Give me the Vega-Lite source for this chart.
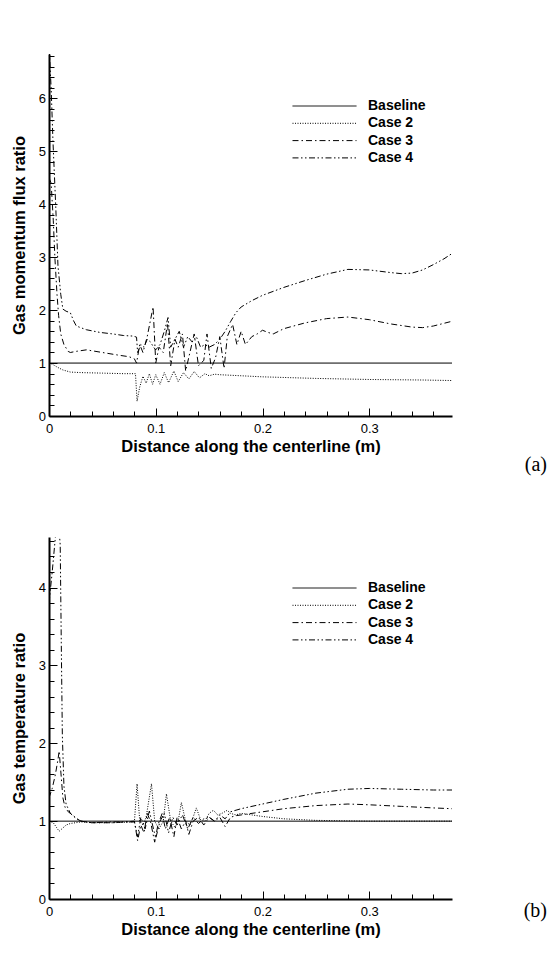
{
  "$schema": "https://vega.github.io/schema/vega-lite/v6.json",
  "background": "white",
  "padding": {"left": 11, "top": 50, "right": 0, "bottom": 0},
  "bounds": "flush",
  "spacing": 121,
  "config": {
    "font": "Liberation Sans",
    "view": {"stroke": null},
    "axis": {
      "domainColor": "black", "domainWidth": 2, "tickColor": "black", "tickWidth": 1,
      "labelColor": "black", "labelFontSize": 13, "labelFont": "Liberation Sans",
      "titleColor": "black", "titleFontSize": 16.5, "titleFontWeight": "bold", "titleFont": "Liberation Sans",
      "grid": false, "labelFlush": false, "labelOverlap": false
    },
    "legend": {
      "title": null, "orient": "none", "symbolType": "stroke", "symbolSize": 4096,
      "symbolStrokeWidth": 1, "symbolStrokeColor": "black", "labelFont": "Liberation Sans",
      "labelFontWeight": "bold", "labelFontSize": 14, "labelColor": "black", "labelOffset": 11,
      "clipHeight": 14, "rowPadding": 3.3, "padding": 0
    }
  },
  "resolve": {"scale": {"strokeDash": "independent"}, "legend": {"strokeDash": "independent"}},
  "datasets": {
    "momentum": [
      {"case": "Baseline", "x": 0, "y": 1}, {"case": "Baseline", "x": 0.3775, "y": 1},
      {"case": "Case 2", "x": 0, "y": 1.0}, {"case": "Case 2", "x": 0.003, "y": 0.98}, {"case": "Case 2", "x": 0.008, "y": 0.92}, {"case": "Case 2", "x": 0.013, "y": 0.87}, {"case": "Case 2", "x": 0.02, "y": 0.83}, {"case": "Case 2", "x": 0.03, "y": 0.82}, {"case": "Case 2", "x": 0.05, "y": 0.81}, {"case": "Case 2", "x": 0.07, "y": 0.8}, {"case": "Case 2", "x": 0.081, "y": 0.8}, {"case": "Case 2", "x": 0.0825, "y": 0.28}, {"case": "Case 2", "x": 0.085, "y": 0.55}, {"case": "Case 2", "x": 0.088, "y": 0.75}, {"case": "Case 2", "x": 0.091, "y": 0.62}, {"case": "Case 2", "x": 0.094, "y": 0.8}, {"case": "Case 2", "x": 0.097, "y": 0.6}, {"case": "Case 2", "x": 0.1, "y": 0.78}, {"case": "Case 2", "x": 0.104, "y": 0.6}, {"case": "Case 2", "x": 0.108, "y": 0.82}, {"case": "Case 2", "x": 0.112, "y": 0.63}, {"case": "Case 2", "x": 0.117, "y": 0.85}, {"case": "Case 2", "x": 0.121, "y": 0.65}, {"case": "Case 2", "x": 0.126, "y": 0.82}, {"case": "Case 2", "x": 0.131, "y": 0.7}, {"case": "Case 2", "x": 0.136, "y": 0.84}, {"case": "Case 2", "x": 0.141, "y": 0.72}, {"case": "Case 2", "x": 0.146, "y": 0.8}, {"case": "Case 2", "x": 0.15, "y": 0.76}, {"case": "Case 2", "x": 0.155, "y": 0.79}, {"case": "Case 2", "x": 0.16, "y": 0.78}, {"case": "Case 2", "x": 0.18, "y": 0.76}, {"case": "Case 2", "x": 0.2, "y": 0.74}, {"case": "Case 2", "x": 0.25, "y": 0.71}, {"case": "Case 2", "x": 0.3, "y": 0.69}, {"case": "Case 2", "x": 0.35, "y": 0.68}, {"case": "Case 2", "x": 0.3775, "y": 0.67},
      {"case": "Case 3", "x": 0, "y": 4.5}, {"case": "Case 3", "x": 0.002, "y": 4.4}, {"case": "Case 3", "x": 0.004, "y": 3.7}, {"case": "Case 3", "x": 0.0055, "y": 3.0}, {"case": "Case 3", "x": 0.0075, "y": 2.3}, {"case": "Case 3", "x": 0.009, "y": 1.9}, {"case": "Case 3", "x": 0.011, "y": 1.55}, {"case": "Case 3", "x": 0.014, "y": 1.35}, {"case": "Case 3", "x": 0.018, "y": 1.22}, {"case": "Case 3", "x": 0.02, "y": 1.2}, {"case": "Case 3", "x": 0.025, "y": 1.22}, {"case": "Case 3", "x": 0.035, "y": 1.25}, {"case": "Case 3", "x": 0.05, "y": 1.2}, {"case": "Case 3", "x": 0.065, "y": 1.15}, {"case": "Case 3", "x": 0.075, "y": 1.12}, {"case": "Case 3", "x": 0.08, "y": 1.08}, {"case": "Case 3", "x": 0.082, "y": 1.0}, {"case": "Case 3", "x": 0.085, "y": 1.35}, {"case": "Case 3", "x": 0.088, "y": 1.2}, {"case": "Case 3", "x": 0.092, "y": 1.5}, {"case": "Case 3", "x": 0.0975, "y": 2.06}, {"case": "Case 3", "x": 0.1, "y": 1.0}, {"case": "Case 3", "x": 0.103, "y": 1.3}, {"case": "Case 3", "x": 0.107, "y": 1.2}, {"case": "Case 3", "x": 0.111, "y": 1.75}, {"case": "Case 3", "x": 0.114, "y": 0.95}, {"case": "Case 3", "x": 0.118, "y": 1.45}, {"case": "Case 3", "x": 0.121, "y": 1.3}, {"case": "Case 3", "x": 0.125, "y": 1.55}, {"case": "Case 3", "x": 0.128, "y": 0.85}, {"case": "Case 3", "x": 0.132, "y": 1.2}, {"case": "Case 3", "x": 0.136, "y": 1.55}, {"case": "Case 3", "x": 0.14, "y": 0.95}, {"case": "Case 3", "x": 0.145, "y": 1.05}, {"case": "Case 3", "x": 0.148, "y": 1.55}, {"case": "Case 3", "x": 0.152, "y": 0.9}, {"case": "Case 3", "x": 0.156, "y": 1.1}, {"case": "Case 3", "x": 0.16, "y": 1.5}, {"case": "Case 3", "x": 0.164, "y": 0.9}, {"case": "Case 3", "x": 0.167, "y": 1.5}, {"case": "Case 3", "x": 0.172, "y": 1.73}, {"case": "Case 3", "x": 0.176, "y": 1.35}, {"case": "Case 3", "x": 0.18, "y": 1.6}, {"case": "Case 3", "x": 0.184, "y": 1.35}, {"case": "Case 3", "x": 0.19, "y": 1.5}, {"case": "Case 3", "x": 0.195, "y": 1.55}, {"case": "Case 3", "x": 0.2, "y": 1.62}, {"case": "Case 3", "x": 0.205, "y": 1.58}, {"case": "Case 3", "x": 0.21, "y": 1.55}, {"case": "Case 3", "x": 0.215, "y": 1.6}, {"case": "Case 3", "x": 0.22, "y": 1.65}, {"case": "Case 3", "x": 0.24, "y": 1.76}, {"case": "Case 3", "x": 0.26, "y": 1.84}, {"case": "Case 3", "x": 0.28, "y": 1.87}, {"case": "Case 3", "x": 0.3, "y": 1.82}, {"case": "Case 3", "x": 0.32, "y": 1.74}, {"case": "Case 3", "x": 0.34, "y": 1.68}, {"case": "Case 3", "x": 0.35, "y": 1.67}, {"case": "Case 3", "x": 0.36, "y": 1.7}, {"case": "Case 3", "x": 0.3775, "y": 1.79},
      {"case": "Case 4", "x": 0, "y": 7.0}, {"case": "Case 4", "x": 0.002, "y": 6.2}, {"case": "Case 4", "x": 0.0037, "y": 5.2}, {"case": "Case 4", "x": 0.0063, "y": 3.97}, {"case": "Case 4", "x": 0.0084, "y": 2.84}, {"case": "Case 4", "x": 0.011, "y": 2.3}, {"case": "Case 4", "x": 0.013, "y": 2.02}, {"case": "Case 4", "x": 0.016, "y": 1.98}, {"case": "Case 4", "x": 0.02, "y": 1.95}, {"case": "Case 4", "x": 0.023, "y": 1.8}, {"case": "Case 4", "x": 0.0256, "y": 1.7}, {"case": "Case 4", "x": 0.035, "y": 1.63}, {"case": "Case 4", "x": 0.0475, "y": 1.58}, {"case": "Case 4", "x": 0.06, "y": 1.55}, {"case": "Case 4", "x": 0.07, "y": 1.52}, {"case": "Case 4", "x": 0.079, "y": 1.51}, {"case": "Case 4", "x": 0.082, "y": 1.49}, {"case": "Case 4", "x": 0.083, "y": 1.2}, {"case": "Case 4", "x": 0.086, "y": 1.35}, {"case": "Case 4", "x": 0.089, "y": 1.3}, {"case": "Case 4", "x": 0.092, "y": 1.45}, {"case": "Case 4", "x": 0.095, "y": 1.4}, {"case": "Case 4", "x": 0.098, "y": 1.3}, {"case": "Case 4", "x": 0.1, "y": 1.25}, {"case": "Case 4", "x": 0.104, "y": 1.35}, {"case": "Case 4", "x": 0.108, "y": 1.6}, {"case": "Case 4", "x": 0.1115, "y": 1.86}, {"case": "Case 4", "x": 0.114, "y": 1.3}, {"case": "Case 4", "x": 0.118, "y": 1.45}, {"case": "Case 4", "x": 0.122, "y": 1.6}, {"case": "Case 4", "x": 0.126, "y": 1.3}, {"case": "Case 4", "x": 0.13, "y": 1.5}, {"case": "Case 4", "x": 0.134, "y": 1.4}, {"case": "Case 4", "x": 0.138, "y": 1.5}, {"case": "Case 4", "x": 0.142, "y": 1.3}, {"case": "Case 4", "x": 0.146, "y": 1.35}, {"case": "Case 4", "x": 0.15, "y": 1.3}, {"case": "Case 4", "x": 0.155, "y": 1.35}, {"case": "Case 4", "x": 0.16, "y": 1.45}, {"case": "Case 4", "x": 0.165, "y": 1.6}, {"case": "Case 4", "x": 0.17, "y": 1.78}, {"case": "Case 4", "x": 0.175, "y": 1.95}, {"case": "Case 4", "x": 0.18, "y": 2.06}, {"case": "Case 4", "x": 0.19, "y": 2.18}, {"case": "Case 4", "x": 0.2, "y": 2.28}, {"case": "Case 4", "x": 0.22, "y": 2.43}, {"case": "Case 4", "x": 0.24, "y": 2.56}, {"case": "Case 4", "x": 0.26, "y": 2.68}, {"case": "Case 4", "x": 0.28, "y": 2.77}, {"case": "Case 4", "x": 0.3, "y": 2.76}, {"case": "Case 4", "x": 0.32, "y": 2.71}, {"case": "Case 4", "x": 0.33, "y": 2.69}, {"case": "Case 4", "x": 0.34, "y": 2.7}, {"case": "Case 4", "x": 0.35, "y": 2.76}, {"case": "Case 4", "x": 0.36, "y": 2.86}, {"case": "Case 4", "x": 0.37, "y": 2.97}, {"case": "Case 4", "x": 0.3775, "y": 3.07}
    ],
    "temperature": [
      {"case": "Baseline", "x": 0, "y": 1}, {"case": "Baseline", "x": 0.3775, "y": 1},
      {"case": "Case 2", "x": 0, "y": 1.0}, {"case": "Case 2", "x": 0.004, "y": 0.98}, {"case": "Case 2", "x": 0.007, "y": 0.92}, {"case": "Case 2", "x": 0.0095, "y": 0.87}, {"case": "Case 2", "x": 0.012, "y": 0.9}, {"case": "Case 2", "x": 0.016, "y": 0.95}, {"case": "Case 2", "x": 0.02, "y": 0.97}, {"case": "Case 2", "x": 0.03, "y": 0.99}, {"case": "Case 2", "x": 0.04, "y": 0.98}, {"case": "Case 2", "x": 0.06, "y": 0.98}, {"case": "Case 2", "x": 0.08, "y": 0.99}, {"case": "Case 2", "x": 0.0825, "y": 1.48}, {"case": "Case 2", "x": 0.085, "y": 1.0}, {"case": "Case 2", "x": 0.088, "y": 0.95}, {"case": "Case 2", "x": 0.091, "y": 1.05}, {"case": "Case 2", "x": 0.096, "y": 1.48}, {"case": "Case 2", "x": 0.099, "y": 1.0}, {"case": "Case 2", "x": 0.103, "y": 0.9}, {"case": "Case 2", "x": 0.107, "y": 1.0}, {"case": "Case 2", "x": 0.11, "y": 1.35}, {"case": "Case 2", "x": 0.114, "y": 1.0}, {"case": "Case 2", "x": 0.118, "y": 0.92}, {"case": "Case 2", "x": 0.121, "y": 1.0}, {"case": "Case 2", "x": 0.124, "y": 1.24}, {"case": "Case 2", "x": 0.128, "y": 1.0}, {"case": "Case 2", "x": 0.132, "y": 0.95}, {"case": "Case 2", "x": 0.135, "y": 1.05}, {"case": "Case 2", "x": 0.138, "y": 1.17}, {"case": "Case 2", "x": 0.142, "y": 1.02}, {"case": "Case 2", "x": 0.146, "y": 1.0}, {"case": "Case 2", "x": 0.15, "y": 1.1}, {"case": "Case 2", "x": 0.154, "y": 1.14}, {"case": "Case 2", "x": 0.158, "y": 1.08}, {"case": "Case 2", "x": 0.162, "y": 1.1}, {"case": "Case 2", "x": 0.167, "y": 1.14}, {"case": "Case 2", "x": 0.17, "y": 1.1}, {"case": "Case 2", "x": 0.175, "y": 1.08}, {"case": "Case 2", "x": 0.18, "y": 1.1}, {"case": "Case 2", "x": 0.19, "y": 1.08}, {"case": "Case 2", "x": 0.2, "y": 1.06}, {"case": "Case 2", "x": 0.22, "y": 1.03}, {"case": "Case 2", "x": 0.25, "y": 1.01}, {"case": "Case 2", "x": 0.3, "y": 1.0}, {"case": "Case 2", "x": 0.3775, "y": 1.0},
      {"case": "Case 3", "x": 0, "y": 1.3}, {"case": "Case 3", "x": 0.003, "y": 1.42}, {"case": "Case 3", "x": 0.006, "y": 1.6}, {"case": "Case 3", "x": 0.0085, "y": 1.8}, {"case": "Case 3", "x": 0.0095, "y": 1.9}, {"case": "Case 3", "x": 0.011, "y": 1.65}, {"case": "Case 3", "x": 0.013, "y": 1.3}, {"case": "Case 3", "x": 0.015, "y": 1.18}, {"case": "Case 3", "x": 0.018, "y": 1.12}, {"case": "Case 3", "x": 0.022, "y": 1.08}, {"case": "Case 3", "x": 0.026, "y": 1.03}, {"case": "Case 3", "x": 0.03, "y": 1.0}, {"case": "Case 3", "x": 0.04, "y": 0.98}, {"case": "Case 3", "x": 0.06, "y": 0.98}, {"case": "Case 3", "x": 0.08, "y": 1.0}, {"case": "Case 3", "x": 0.083, "y": 0.75}, {"case": "Case 3", "x": 0.086, "y": 0.95}, {"case": "Case 3", "x": 0.089, "y": 0.85}, {"case": "Case 3", "x": 0.092, "y": 1.1}, {"case": "Case 3", "x": 0.095, "y": 1.0}, {"case": "Case 3", "x": 0.099, "y": 0.73}, {"case": "Case 3", "x": 0.102, "y": 0.95}, {"case": "Case 3", "x": 0.106, "y": 1.1}, {"case": "Case 3", "x": 0.109, "y": 0.9}, {"case": "Case 3", "x": 0.113, "y": 1.05}, {"case": "Case 3", "x": 0.117, "y": 0.8}, {"case": "Case 3", "x": 0.12, "y": 1.05}, {"case": "Case 3", "x": 0.124, "y": 0.9}, {"case": "Case 3", "x": 0.128, "y": 1.0}, {"case": "Case 3", "x": 0.131, "y": 0.83}, {"case": "Case 3", "x": 0.135, "y": 1.0}, {"case": "Case 3", "x": 0.14, "y": 1.05}, {"case": "Case 3", "x": 0.145, "y": 0.95}, {"case": "Case 3", "x": 0.15, "y": 1.05}, {"case": "Case 3", "x": 0.155, "y": 1.0}, {"case": "Case 3", "x": 0.16, "y": 1.05}, {"case": "Case 3", "x": 0.165, "y": 0.93}, {"case": "Case 3", "x": 0.17, "y": 1.05}, {"case": "Case 3", "x": 0.175, "y": 1.07}, {"case": "Case 3", "x": 0.18, "y": 1.08}, {"case": "Case 3", "x": 0.2, "y": 1.12}, {"case": "Case 3", "x": 0.22, "y": 1.16}, {"case": "Case 3", "x": 0.25, "y": 1.2}, {"case": "Case 3", "x": 0.28, "y": 1.22}, {"case": "Case 3", "x": 0.3, "y": 1.21}, {"case": "Case 3", "x": 0.33, "y": 1.19}, {"case": "Case 3", "x": 0.36, "y": 1.17}, {"case": "Case 3", "x": 0.3775, "y": 1.16},
      {"case": "Case 4", "x": 0, "y": 3.8}, {"case": "Case 4", "x": 0.003, "y": 4.2}, {"case": "Case 4", "x": 0.006, "y": 4.65}, {"case": "Case 4", "x": 0.0085, "y": 4.9}, {"case": "Case 4", "x": 0.0105, "y": 4.55}, {"case": "Case 4", "x": 0.0115, "y": 3.3}, {"case": "Case 4", "x": 0.0125, "y": 2.1}, {"case": "Case 4", "x": 0.014, "y": 1.45}, {"case": "Case 4", "x": 0.016, "y": 1.22}, {"case": "Case 4", "x": 0.02, "y": 1.1}, {"case": "Case 4", "x": 0.025, "y": 1.04}, {"case": "Case 4", "x": 0.03, "y": 1.0}, {"case": "Case 4", "x": 0.04, "y": 0.98}, {"case": "Case 4", "x": 0.06, "y": 0.99}, {"case": "Case 4", "x": 0.08, "y": 0.99}, {"case": "Case 4", "x": 0.083, "y": 0.8}, {"case": "Case 4", "x": 0.086, "y": 1.05}, {"case": "Case 4", "x": 0.09, "y": 0.9}, {"case": "Case 4", "x": 0.094, "y": 1.13}, {"case": "Case 4", "x": 0.097, "y": 0.95}, {"case": "Case 4", "x": 0.1, "y": 0.78}, {"case": "Case 4", "x": 0.104, "y": 1.0}, {"case": "Case 4", "x": 0.108, "y": 1.1}, {"case": "Case 4", "x": 0.112, "y": 0.85}, {"case": "Case 4", "x": 0.116, "y": 1.05}, {"case": "Case 4", "x": 0.12, "y": 0.95}, {"case": "Case 4", "x": 0.125, "y": 1.08}, {"case": "Case 4", "x": 0.13, "y": 0.9}, {"case": "Case 4", "x": 0.135, "y": 1.05}, {"case": "Case 4", "x": 0.14, "y": 0.97}, {"case": "Case 4", "x": 0.145, "y": 1.03}, {"case": "Case 4", "x": 0.15, "y": 1.05}, {"case": "Case 4", "x": 0.155, "y": 1.0}, {"case": "Case 4", "x": 0.16, "y": 1.08}, {"case": "Case 4", "x": 0.165, "y": 1.03}, {"case": "Case 4", "x": 0.17, "y": 1.12}, {"case": "Case 4", "x": 0.18, "y": 1.16}, {"case": "Case 4", "x": 0.2, "y": 1.22}, {"case": "Case 4", "x": 0.22, "y": 1.28}, {"case": "Case 4", "x": 0.25, "y": 1.36}, {"case": "Case 4", "x": 0.28, "y": 1.41}, {"case": "Case 4", "x": 0.3, "y": 1.42}, {"case": "Case 4", "x": 0.33, "y": 1.41}, {"case": "Case 4", "x": 0.36, "y": 1.4}, {"case": "Case 4", "x": 0.3775, "y": 1.4}
    ]
  },
  "vconcat": [
    {
      "width": 403, "height": 362,
      "title": {"text": "(a)", "orient": "bottom", "anchor": "end", "dx": 95, "offset": 0, "font": "Liberation Serif", "fontSize": 20, "fontWeight": "normal", "color": "black"},
      "data": {"name": "momentum"},
      "mark": {"type": "line", "clip": true, "color": "black", "strokeWidth": 1},
      "encoding": {
        "x": {"field": "x", "type": "quantitative", "scale": {"domain": [0, 0.3775], "nice": false},
          "axis": {"title": "Distance along the centerline (m)", "values": [0,0.02,0.04,0.06,0.08,0.1,0.12,0.14,0.16,0.18,0.2,0.22,0.24,0.26,0.28,0.3,0.32,0.34,0.36],
            "labelExpr": "abs(datum.value*10 - round(datum.value*10)) < 0.001 ? format(datum.value, '~g') : ''",
            "tickSize": {"condition": {"test": "abs(datum.value*10 - round(datum.value*10)) < 0.001", "value": -8}, "value": -5},
            "labelPadding": 14, "titlePadding": 0}},
        "y": {"field": "y", "type": "quantitative", "scale": {"domain": [0, 6.84], "nice": false},
          "axis": {"title": "Gas momentum flux ratio", "values": [0,0.2,0.4,0.6,0.8,1,1.2,1.4,1.6,1.8,2,2.2,2.4,2.6,2.8,3,3.2,3.4,3.6,3.8,4,4.2,4.4,4.6,4.8,5,5.2,5.4,5.6,5.8,6,6.2,6.4,6.6,6.8],
            "labelExpr": "abs(datum.value - round(datum.value)) < 0.001 ? format(datum.value, 'd') : ''",
            "tickSize": {"condition": {"test": "abs(datum.value - round(datum.value)) < 0.001", "value": -8}, "value": -5},
            "labelPadding": 11.5, "titlePadding": 11}},
        "strokeDash": {"field": "case", "type": "nominal",
          "scale": {"domain": ["Baseline", "Case 2", "Case 3", "Case 4"], "range": [[1, 0], [1, 1.5], [6, 3, 1.5, 3], [6, 2.5, 1.5, 2.5, 1.5, 2.5]]},
          "legend": {"legendX": 243, "legendY": 45}}
      }
    },
    {
      "width": 403, "height": 362,
      "title": {"text": "(b)", "orient": "bottom", "anchor": "end", "dx": 95, "offset": -37, "font": "Liberation Serif", "fontSize": 20, "fontWeight": "normal", "color": "black"},
      "data": {"name": "temperature"},
      "mark": {"type": "line", "clip": true, "color": "black", "strokeWidth": 1},
      "encoding": {
        "x": {"field": "x", "type": "quantitative", "scale": {"domain": [0, 0.3775], "nice": false},
          "axis": {"title": "Distance along the centerline (m)", "values": [0,0.02,0.04,0.06,0.08,0.1,0.12,0.14,0.16,0.18,0.2,0.22,0.24,0.26,0.28,0.3,0.32,0.34,0.36],
            "labelExpr": "abs(datum.value*10 - round(datum.value*10)) < 0.001 ? format(datum.value, '~g') : ''",
            "tickSize": {"condition": {"test": "abs(datum.value*10 - round(datum.value*10)) < 0.001", "value": -8}, "value": -5},
            "labelPadding": 14, "titlePadding": 0}},
        "y": {"field": "y", "type": "quantitative", "scale": {"domain": [0, 4.65], "nice": false},
          "axis": {"title": "Gas temperature ratio", "values": [0,0.2,0.4,0.6,0.8,1,1.2,1.4,1.6,1.8,2,2.2,2.4,2.6,2.8,3,3.2,3.4,3.6,3.8,4,4.2,4.4,4.6],
            "labelExpr": "abs(datum.value - round(datum.value)) < 0.001 ? format(datum.value, 'd') : ''",
            "tickSize": {"condition": {"test": "abs(datum.value - round(datum.value)) < 0.001", "value": -8}, "value": -5},
            "labelPadding": 11.5, "titlePadding": 11}},
        "strokeDash": {"field": "case", "type": "nominal",
          "scale": {"domain": ["Baseline", "Case 2", "Case 3", "Case 4"], "range": [[1, 0], [1, 1.5], [6, 3, 1.5, 3], [6, 2.5, 1.5, 2.5, 1.5, 2.5]]},
          "legend": {"legendX": 243, "legendY": 44}}
      }
    }
  ]
}
